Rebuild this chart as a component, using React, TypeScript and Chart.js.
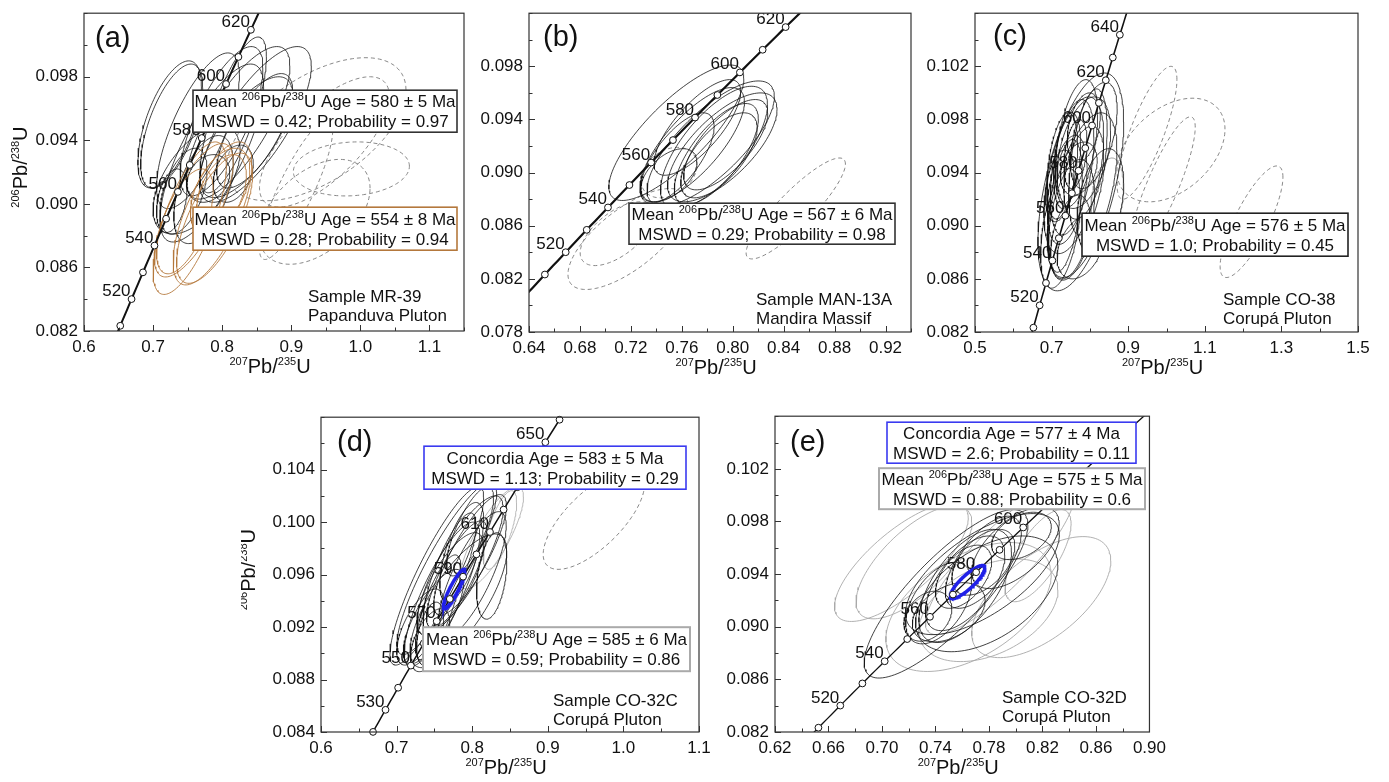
import React, { useEffect, useRef } from "react";
import { Chart, registerables } from "chart.js";
Chart.register(...registerables);

const FONT = '"Liberation Sans", Arial, Helvetica, sans-serif';
type Ell = [number, number, number, number, number]; // cx, cy, halfX, halfY, rho

// U-Pb decay constants (1/yr)
const LAMBDA_238 = 1.55125e-10;
const LAMBDA_235 = 9.8485e-10;

// ---------- Panel (a) ----------
const A_X_TICKS = [0.6, 0.7, 0.8, 0.9, 1.0, 1.1];
const A_Y_TICKS = [0.082, 0.086, 0.09, 0.094, 0.098];
const A_MARKER_AGES = [510, 520, 530, 540, 550, 560, 570, 580, 590, 600, 610, 620];
const A_LABEL_AGES = [520, 540, 560, 580, 600, 620];
const A_BLACK: Ell[] = [
  [0.724, 0.095, 0.046, 0.004, 0.6],
  [0.727, 0.0949, 0.045, 0.0039, 0.62],
  [0.765, 0.0946, 0.06, 0.0049, 0.72],
  [0.799, 0.0952, 0.06, 0.0047, 0.72],
  [0.823, 0.0951, 0.075, 0.0048, 0.75],
  [0.848, 0.095, 0.081, 0.0049, 0.75],
  [0.835, 0.0942, 0.067, 0.0038, 0.7],
  [0.785, 0.0932, 0.075, 0.0056, 0.75],
  [0.763, 0.0915, 0.063, 0.0034, 0.55],
  [0.744, 0.0908, 0.034, 0.0027, 0.5],
  [0.773, 0.0909, 0.043, 0.0034, 0.5],
  [0.78, 0.0916, 0.031, 0.0015, 0.25],
  [0.816, 0.0919, 0.029, 0.0018, 0.35],
  [0.727, 0.0902, 0.022, 0.002, 0.35],
  [0.816, 0.0956, 0.048, 0.0049, 0.75],
  [0.847, 0.0946, 0.055, 0.0036, 0.7],
];
const A_BROWN: Ell[] = [
  [0.753, 0.0891, 0.053, 0.0048, 0.7],
  [0.759, 0.0896, 0.057, 0.0042, 0.72],
  [0.786, 0.0894, 0.057, 0.0045, 0.68],
  [0.789, 0.0891, 0.055, 0.0041, 0.68],
  [0.797, 0.0908, 0.043, 0.0027, 0.5],
  [0.746, 0.0889, 0.041, 0.0033, 0.6],
  [0.799, 0.0907, 0.036, 0.0024, 0.45],
];
const A_DASHED: Ell[] = [
  [0.936, 0.0947, 0.13, 0.0045, 0.55],
  [0.948, 0.0939, 0.094, 0.0041, 0.7],
  [0.907, 0.0909, 0.053, 0.0044, 0.85],
  [0.987, 0.0922, 0.084, 0.0017, 0.1],
  [0.934, 0.0895, 0.08, 0.0033, 0.45],
];

// ---------- Panel (b) ----------
const B_X_TICKS = [0.64, 0.68, 0.72, 0.76, 0.8, 0.84, 0.88, 0.92];
const B_Y_TICKS = [0.078, 0.082, 0.086, 0.09, 0.094, 0.098];
const B_MARKER_AGES = [510, 520, 530, 540, 550, 560, 570, 580, 590, 600, 610, 620];
const B_LABEL_AGES = [520, 540, 560, 580, 600, 620];
const B_BLACK: Ell[] = [
  [0.7557, 0.093, 0.053, 0.0051, 0.8],
  [0.7682, 0.0921, 0.041, 0.0043, 0.75],
  [0.7827, 0.0922, 0.05, 0.0047, 0.75],
  [0.7853, 0.0919, 0.042, 0.0046, 0.7],
  [0.7918, 0.0919, 0.043, 0.0041, 0.7],
  [0.7871, 0.0914, 0.033, 0.0038, 0.7],
  [0.7892, 0.0913, 0.03, 0.0032, 0.65],
  [0.7564, 0.0911, 0.029, 0.0034, 0.7],
  [0.7499, 0.0898, 0.022, 0.002, 0.5],
  [0.7722, 0.0934, 0.034, 0.0036, 0.75],
  [0.7945, 0.0921, 0.033, 0.0034, 0.7],
];
const B_DASHED: Ell[] = [
  [0.7499, 0.09, 0.022, 0.0019, 0.3],
  [0.7176, 0.085, 0.047, 0.0038, 0.7],
  [0.7092, 0.0854, 0.029, 0.0024, 0.6],
  [0.8495, 0.0873, 0.039, 0.0038, 0.88],
];

// ---------- Panel (c) ----------
const C_X_TICKS = [0.5, 0.7, 0.9, 1.1, 1.3, 1.5];
const C_Y_TICKS = [0.082, 0.086, 0.09, 0.094, 0.098, 0.102];
const C_MARKER_AGES = [510, 520, 530, 540, 550, 560, 570, 580, 590, 600, 610, 620, 630, 640];
const C_LABEL_AGES = [520, 540, 560, 580, 600, 620, 640];
const C_BLACK: Ell[] = [
  [0.7763, 0.0933, 0.112, 0.0082, 0.55],
  [0.758, 0.0938, 0.078, 0.0059, 0.5],
  [0.7537, 0.0944, 0.057, 0.0051, 0.45],
  [0.7841, 0.0955, 0.07, 0.0042, 0.4],
  [0.7407, 0.0927, 0.052, 0.0041, 0.4],
  [0.7233, 0.0898, 0.052, 0.0045, 0.45],
  [0.8275, 0.0918, 0.061, 0.004, 0.35],
  [0.7841, 0.094, 0.052, 0.0035, 0.4],
  [0.7407, 0.0949, 0.035, 0.0036, 0.35],
  [0.8102, 0.0968, 0.061, 0.004, 0.5],
  [0.7493, 0.0891, 0.052, 0.0032, 0.4],
  [0.7797, 0.0923, 0.091, 0.0062, 0.55],
  [0.7711, 0.0943, 0.048, 0.002, 0.3],
  [0.7215, 0.093, 0.037, 0.0027, 0.35],
  [0.7624, 0.0954, 0.03, 0.0026, 0.35],
  [0.7754, 0.0884, 0.061, 0.0024, 0.35],
  [0.7841, 0.0974, 0.043, 0.0026, 0.35],
  [0.735, 0.0915, 0.045, 0.005, 0.45],
  [0.765, 0.0962, 0.055, 0.0048, 0.45],
  [0.752, 0.0905, 0.06, 0.0045, 0.4],
  [0.795, 0.0948, 0.05, 0.0055, 0.45],
  [0.728, 0.0945, 0.04, 0.004, 0.4],
];
const C_GRAY: Ell[] = [[0.845, 0.092, 0.0425, 0.0031, 0.3]];
const C_DASHED: Ell[] = [
  [0.9492, 0.097, 0.078, 0.005, 0.8],
  [1.0117, 0.0957, 0.141, 0.0039, 0.4],
  [0.99, 0.093, 0.085, 0.0052, 0.85],
  [1.222, 0.0903, 0.082, 0.0042, 0.8],
];

// ---------- Panel (d) ----------
const D_X_TICKS = [0.6, 0.7, 0.8, 0.9, 1.0, 1.1];
const D_Y_TICKS = [0.084, 0.088, 0.092, 0.096, 0.1, 0.104];
const D_MARKER_AGES = [520, 530, 540, 550, 560, 570, 580, 590, 600, 610, 620, 630, 640, 650, 660];
const D_LABEL_AGES = [530, 550, 570, 590, 610, 630, 650];
const D_BLACK: Ell[] = [
  [0.7532, 0.0959, 0.062, 0.0068, 0.88],
  [0.7664, 0.0965, 0.066, 0.0066, 0.88],
  [0.7818, 0.094, 0.064, 0.0051, 0.75],
  [0.784, 0.0967, 0.057, 0.0053, 0.82],
  [0.7972, 0.0975, 0.048, 0.0046, 0.82],
  [0.7708, 0.0953, 0.044, 0.0039, 0.75],
  [0.7488, 0.0928, 0.04, 0.0036, 0.75],
  [0.7796, 0.096, 0.04, 0.0041, 0.8],
  [0.8258, 0.0959, 0.02, 0.0033, 0.35],
  [0.7444, 0.0915, 0.018, 0.0024, 0.45],
  [0.7444, 0.091, 0.026, 0.0024, 0.55],
  [0.7862, 0.0977, 0.029, 0.0038, 0.65],
  [0.7972, 0.0993, 0.031, 0.0034, 0.75],
  [0.7312, 0.092, 0.031, 0.0029, 0.65],
  [0.76, 0.0945, 0.05, 0.0055, 0.82],
  [0.77, 0.0962, 0.035, 0.0045, 0.8],
  [0.755, 0.0935, 0.03, 0.004, 0.75],
  [0.8, 0.096, 0.045, 0.0048, 0.78],
];
const D_GRAY: Ell[] = [
  [0.8258, 0.0988, 0.042, 0.0039, 0.8],
  [0.8368, 0.0994, 0.022, 0.003, 0.7],
];
const D_DASHED: Ell[] = [[0.9609, 0.1002, 0.067, 0.0038, 0.7]];
const D_BLUE: Ell[] = [[0.7761, 0.0949, 0.0143, 0.0015, 0.9]];

// ---------- Panel (e) ----------
const E_X_TICKS = [0.62, 0.66, 0.7, 0.74, 0.78, 0.82, 0.86, 0.9];
const E_Y_TICKS = [0.082, 0.086, 0.09, 0.094, 0.098, 0.102];
const E_MARKER_AGES = [510, 520, 530, 540, 550, 560, 570, 580, 590, 600, 610, 620, 630, 640];
const E_LABEL_AGES = [520, 540, 560, 580, 600];
const E_BLACK: Ell[] = [
  [0.7479, 0.0925, 0.0612, 0.0064, 0.82],
  [0.7751, 0.094, 0.0575, 0.0046, 0.65],
  [0.7783, 0.0925, 0.0532, 0.0044, 0.5],
  [0.7622, 0.0931, 0.0346, 0.0043, 0.6],
  [0.7622, 0.0933, 0.0297, 0.0036, 0.6],
  [0.7424, 0.0918, 0.0247, 0.0031, 0.5],
  [0.7758, 0.0949, 0.0284, 0.0035, 0.65],
  [0.7998, 0.096, 0.0327, 0.0031, 0.6],
  [0.7499, 0.0911, 0.0272, 0.00225, 0.4],
  [0.761, 0.0938, 0.021, 0.0024, 0.5],
  [0.7758, 0.0949, 0.0235, 0.0025, 0.5],
  [0.7343, 0.0908, 0.0179, 0.0019, 0.3],
  [0.8043, 0.0969, 0.0223, 0.0018, 0.4],
];
const E_GRAY: Ell[] = [
  [0.7145, 0.0949, 0.05, 0.0045, 0.75],
  [0.7239, 0.0949, 0.0433, 0.0043, 0.7],
  [0.7647, 0.0915, 0.0618, 0.0049, 0.5],
  [0.8191, 0.09225, 0.052, 0.0046, 0.6],
  [0.7796, 0.09125, 0.052, 0.0039, 0.4],
  [0.8167, 0.0954, 0.0247, 0.0035, 0.7],
  [0.7882, 0.0951, 0.0557, 0.0057, 0.85],
];
const E_BLUE: Ell[] = [[0.764, 0.0934, 0.0129, 0.00125, 0.85]];

// ---------- styling ----------
const BLACK = "#111111";
const BROWN = "#b4783c";
const DASH_GRAY = "#7a7a7a";
const LIGHT_GRAY = "#a8a8a8";
const BLUE = "#2020e8";

interface Group { ells: Ell[]; color: string; width: number; dash?: number[]; order: number }
interface Box { x: number; y: number; w: number; h: number; border: string; bw: number; lines: string[] }
interface Panel {
  rect: [number, number, number, number];
  xRange: [number, number]; yRange: [number, number];
  xTicks: number[]; yTicks: number[]; xMinor: number; yMinor: number; xDec: number;
  groups: Group[]; markerAges: number[]; labelAges: number[]; concW: number;
  boxes: Box[]; sample: [string, string]; sampleAt: [number, number];
  tag: string; tagAt: [number, number]; yTitleDx: number | null;
}

const MEAN = (age: string) => `Mean ^{206}Pb/^{238}U Age = ${age}`;

const PANELS: Panel[] = [
  {
    rect: [84, 9, 464, 331], xRange: [0.6, 1.15], yRange: [0.082, 0.102],
    xTicks: A_X_TICKS, yTicks: A_Y_TICKS, xMinor: 0.05, yMinor: 0.002, xDec: 1,
    groups: [
      { ells: A_DASHED, color: DASH_GRAY, width: 0.9, dash: [4, 3], order: 4 },
      { ells: A_BLACK, color: BLACK, width: 0.8, order: 3 },
      { ells: A_BROWN, color: BROWN, width: 0.9, order: 2 },
    ],
    markerAges: A_MARKER_AGES, labelAges: A_LABEL_AGES, concW: 2,
    boxes: [
      { x: 109, y: 77, w: 264, h: 42, border: "#333333", bw: 1.6, lines: [MEAN("580 ± 5 Ma"), "MSWD = 0.42; Probability = 0.97"] },
      { x: 109, y: 194, w: 264, h: 43, border: BROWN, bw: 1.6, lines: [MEAN("554 ± 8 Ma"), "MSWD = 0.28; Probability = 0.94"] },
    ],
    sample: ["Sample MR-39", "Papanduva Pluton"], sampleAt: [224, 283],
    tag: "(a)", tagAt: [11, 24], yTitleDx: -64,
  },
  {
    rect: [529, 9, 911, 332], xRange: [0.64, 0.94], yRange: [0.078, 0.102],
    xTicks: B_X_TICKS, yTicks: B_Y_TICKS, xMinor: 0.02, yMinor: 0.002, xDec: 2,
    groups: [
      { ells: B_DASHED, color: DASH_GRAY, width: 0.9, dash: [4, 3], order: 4 },
      { ells: B_BLACK, color: BLACK, width: 0.8, order: 3 },
    ],
    markerAges: B_MARKER_AGES, labelAges: B_LABEL_AGES, concW: 2.2,
    boxes: [
      { x: 100, y: 190, w: 266, h: 41, border: "#333333", bw: 1.6, lines: [MEAN("567 ± 6 Ma"), "MSWD = 0.29; Probability = 0.98"] },
    ],
    sample: ["Sample MAN-13A", "Mandira Massif"], sampleAt: [227, 286],
    tag: "(b)", tagAt: [14, 23], yTitleDx: null,
  },
  {
    rect: [975, 9, 1358, 332], xRange: [0.5, 1.5], yRange: [0.082, 0.106],
    xTicks: C_X_TICKS, yTicks: C_Y_TICKS, xMinor: 0.1, yMinor: 0.002, xDec: 1,
    groups: [
      { ells: C_DASHED, color: DASH_GRAY, width: 0.9, dash: [4, 3], order: 5 },
      { ells: C_GRAY, color: "#8a8a8a", width: 0.8, order: 4 },
      { ells: C_BLACK, color: BLACK, width: 0.8, order: 3 },
    ],
    markerAges: C_MARKER_AGES, labelAges: C_LABEL_AGES, concW: 1.6,
    boxes: [
      { x: 107, y: 200, w: 266, h: 43, border: "#222222", bw: 1.6, lines: [MEAN("576 ± 5 Ma"), "MSWD = 1.0; Probability = 0.45"] },
    ],
    sample: ["Sample CO-38", "Corupá Pluton"], sampleAt: [248, 286],
    tag: "(c)", tagAt: [18, 22], yTitleDx: null,
  },
  {
    rect: [321, 413, 699, 732], xRange: [0.6, 1.1], yRange: [0.084, 0.108],
    xTicks: D_X_TICKS, yTicks: D_Y_TICKS, xMinor: 0.05, yMinor: 0.002, xDec: 1,
    groups: [
      { ells: D_DASHED, color: DASH_GRAY, width: 0.9, dash: [4, 3], order: 5 },
      { ells: D_GRAY, color: LIGHT_GRAY, width: 0.8, order: 4 },
      { ells: D_BLACK, color: BLACK, width: 0.8, order: 3 },
      { ells: D_BLUE, color: BLUE, width: 3.5, order: 0.5 },
    ],
    markerAges: D_MARKER_AGES, labelAges: D_LABEL_AGES, concW: 1.5,
    boxes: [
      { x: 103, y: 29, w: 262, h: 43, border: "#3a3af0", bw: 1.6, lines: ["Concordia Age = 583 ± 5 Ma", "MSWD = 1.13; Probability = 0.29"] },
      { x: 102, y: 210, w: 267, h: 44, border: "#aaaaaa", bw: 2, lines: [MEAN("585 ± 6 Ma"), "MSWD = 0.59; Probability = 0.86"] },
    ],
    sample: ["Sample CO-32C", "Corupá Pluton"], sampleAt: [232, 283],
    tag: "(d)", tagAt: [16, 24], yTitleDx: -73,
  },
  {
    rect: [775, 412, 1152, 732], xRange: [0.62, 0.9], yRange: [0.082, 0.106],
    xTicks: E_X_TICKS, yTicks: E_Y_TICKS, xMinor: 0.02, yMinor: 0.002, xDec: 2,
    groups: [
      { ells: E_GRAY, color: LIGHT_GRAY, width: 0.9, order: 4 },
      { ells: E_BLACK, color: BLACK, width: 0.8, order: 3 },
      { ells: E_BLUE, color: BLUE, width: 3.5, order: 0.5 },
    ],
    markerAges: E_MARKER_AGES, labelAges: E_LABEL_AGES, concW: 1.3,
    boxes: [
      { x: 112, y: 6, w: 249, h: 41, border: "#3a3af0", bw: 1.6, lines: ["Concordia Age = 577 ± 4 Ma", "MSWD = 2.6; Probability = 0.11"] },
      { x: 104, y: 52, w: 266, h: 41, border: "#aaaaaa", bw: 2, lines: [MEAN("575 ± 5 Ma"), "MSWD = 0.88; Probability = 0.6"] },
    ],
    sample: ["Sample CO-32D", "Corupá Pluton"], sampleAt: [227, 281],
    tag: "(e)", tagAt: [15, 25], yTitleDx: null,
  },
];

// ---------- helpers ----------
const concX = (ma: number) => Math.exp(LAMBDA_235 * ma * 1e6) - 1;
const concY = (ma: number) => Math.exp(LAMBDA_238 * ma * 1e6) - 1;

function ellipsePoints(e: Ell) {
  const [cx, cy, sx, sy, r] = e;
  const k = Math.sqrt(1 - r * r);
  const pts: { x: number; y: number }[] = [];
  const N = 120;
  for (let i = 0; i <= N; i++) {
    const t = (2 * Math.PI * i) / N;
    pts.push({ x: cx + sx * Math.cos(t), y: cy + sy * (r * Math.cos(t) + k * Math.sin(t)) });
  }
  return pts;
}

function parseRich(s: string) {
  const parts: { t: string; sup: boolean }[] = [];
  const re = /\^\{([^}]*)\}/g;
  let last = 0;
  let m: RegExpExecArray | null;
  while ((m = re.exec(s))) {
    if (m.index > last) parts.push({ t: s.slice(last, m.index), sup: false });
    parts.push({ t: m[1], sup: true });
    last = m.index + m[0].length;
  }
  if (last < s.length) parts.push({ t: s.slice(last), sup: false });
  return parts;
}

function drawRich(ctx: CanvasRenderingContext2D, s: string, x: number, yc: number, size: number, align: "left" | "center" | "right", supSize?: number) {
  const parts = parseRich(s);
  const ss = supSize ?? Math.round(size * 0.63);
  let total = 0;
  const widths = parts.map((p) => {
    ctx.font = `${p.sup ? ss : size}px ${FONT}`;
    const w = ctx.measureText(p.t).width;
    total += w;
    return w;
  });
  let cx = align === "center" ? x - total / 2 : align === "right" ? x - total : x;
  const base = yc + size * 0.36;
  ctx.textAlign = "left";
  ctx.textBaseline = "alphabetic";
  parts.forEach((p, i) => {
    ctx.font = `${p.sup ? ss : size}px ${FONT}`;
    ctx.fillText(p.t, cx, p.sup ? base - size * 0.42 : base);
    cx += widths[i];
  });
}

const PAD_L = 80, PAD_T = 12, PAD_R = 20, PAD_B = 55;

function makePlugin(p: Panel) {
  return {
    id: "deco",
    beforeDatasetsDraw(chart: any) {
      const { ctx, chartArea: a, scales } = chart;
      ctx.save();
      ctx.beginPath();
      ctx.rect(a.left, a.top, a.right - a.left, a.bottom - a.top);
      ctx.clip();
      ctx.fillStyle = "#111";
      ctx.font = `17px ${FONT}`;
      ctx.textAlign = "right";
      ctx.textBaseline = "alphabetic";
      p.labelAges.forEach((age) => {
        const px = scales.x.getPixelForValue(concX(age));
        const py = scales.y.getPixelForValue(concY(age));
        ctx.fillText(String(age), px - 1, py - 3);
      });
      ctx.restore();
    },
    afterDatasetsDraw(chart: any) {
      const { ctx, chartArea: a, scales } = chart;
      ctx.save();
      ctx.strokeStyle = "#333";
      ctx.lineWidth = 1.2;
      ctx.strokeRect(a.left, a.top, a.right - a.left, a.bottom - a.top);
      ctx.lineWidth = 1;
      ctx.strokeStyle = "#333";
      const near = (v: number, arr: number[], step: number) => arr.some((m) => Math.abs(m - v) < step * 0.05);
      const [x0, x1] = p.xRange;
      for (let n = Math.ceil(x0 / p.xMinor - 1e-6); n <= Math.floor(x1 / p.xMinor + 1e-6); n++) {
        const v = n * p.xMinor;
        const len = near(v, p.xTicks, p.xMinor) ? 6 : 3.5;
        const px = Math.round(scales.x.getPixelForValue(v)) + 0.5;
        ctx.beginPath();
        ctx.moveTo(px, a.bottom);
        ctx.lineTo(px, a.bottom - len);
        ctx.stroke();
      }
      const [y0, y1] = p.yRange;
      for (let n = Math.ceil(y0 / p.yMinor - 1e-6); n <= Math.floor(y1 / p.yMinor + 1e-6); n++) {
        const v = n * p.yMinor;
        const len = near(v, p.yTicks, p.yMinor) ? 6 : 3.5;
        const py = Math.round(scales.y.getPixelForValue(v)) + 0.5;
        ctx.beginPath();
        ctx.moveTo(a.left, py);
        ctx.lineTo(a.left + len, py);
        ctx.stroke();
      }
      p.boxes.forEach((b) => {
        const bx = a.left + b.x, by = a.top + b.y;
        ctx.fillStyle = "#ffffff";
        ctx.fillRect(bx, by, b.w, b.h);
        ctx.strokeStyle = b.border;
        ctx.lineWidth = b.bw;
        ctx.strokeRect(bx, by, b.w, b.h);
        ctx.fillStyle = "#111";
        const cx = bx + b.w / 2, cy = by + b.h / 2;
        drawRich(ctx, b.lines[0], cx, cy - 10, 17, "center", 11);
        drawRich(ctx, b.lines[1], cx, cy + 10, 17, "center", 11);
      });
      ctx.fillStyle = "#111";
      drawRich(ctx, p.sample[0], a.left + p.sampleAt[0], a.top + p.sampleAt[1], 17, "left");
      drawRich(ctx, p.sample[1], a.left + p.sampleAt[0], a.top + p.sampleAt[1] + 19, 17, "left");
      drawRich(ctx, p.tag, a.left + p.tagAt[0], a.top + p.tagAt[1] - 1, 29, "left");
      const title207 = "^{207}Pb/^{235}U";
      const title206 = "^{206}Pb/^{238}U";
      drawRich(ctx, title207, (a.left + a.right) / 2 - 4, a.bottom + 35, 20, "center", 11);
      if (p.yTitleDx !== null) {
        ctx.save();
        ctx.translate(a.left + p.yTitleDx, (a.top + a.bottom) / 2 - 5);
        ctx.rotate(-Math.PI / 2);
        drawRich(ctx, title206, 0, 0, 20, "center", 11);
        ctx.restore();
      }
      ctx.restore();
    },
  };
}

function buildDatasets(p: Panel) {
  const ds: any[] = [];
  p.groups.forEach((g) => {
    g.ells.forEach((e) => {
      ds.push({
        data: ellipsePoints(e), showLine: true, pointRadius: 0, borderColor: g.color,
        borderWidth: g.width, borderDash: g.dash ?? [], fill: false, tension: 0, order: g.order,
      });
    });
  });
  const curve: { x: number; y: number }[] = [];
  for (let age = 480; age <= 700; age += 2) curve.push({ x: concX(age), y: concY(age) });
  ds.push({ data: curve, showLine: true, pointRadius: 0, borderColor: BLACK, borderWidth: p.concW, fill: false, order: 1 });
  ds.push({
    data: p.markerAges.map((age) => ({ x: concX(age), y: concY(age) })), showLine: false,
    pointRadius: 3.4, pointBackgroundColor: "#ffffff", pointBorderColor: BLACK, pointBorderWidth: 1,
    order: 0, clip: false,
  });
  return ds;
}

function PanelChart({ p }: { p: Panel }) {
  const ref = useRef<HTMLCanvasElement | null>(null);
  const [l, t, r, b] = p.rect;
  const W = r - l + PAD_L + PAD_R;
  const H = b - t + PAD_T + PAD_B;
  useEffect(() => {
    if (!ref.current) return;
    const tickFont = { family: FONT, size: 17 };
    const chart = new Chart(ref.current, {
      type: "scatter",
      data: { datasets: buildDatasets(p) },
      options: {
        animation: false, responsive: false, maintainAspectRatio: false, events: [],
        layout: { padding: { left: 0, top: PAD_T, right: PAD_R, bottom: 0 } },
        plugins: { legend: { display: false }, tooltip: { enabled: false } },
        scales: {
          x: {
            type: "linear", min: p.xRange[0], max: p.xRange[1],
            grid: { display: false, drawTicks: false }, border: { display: false },
            ticks: { padding: 6, font: tickFont, color: "#111", autoSkip: false, maxRotation: 0, includeBounds: false,
              callback: (v: any) => Number(v).toFixed(p.xDec) },
            afterBuildTicks: (s: any) => { s.ticks = p.xTicks.map((v) => ({ value: v })); },
            afterFit: (s: any) => { s.height = PAD_B; },
          },
          y: {
            type: "linear", min: p.yRange[0], max: p.yRange[1],
            grid: { display: false, drawTicks: false }, border: { display: false },
            ticks: { padding: 6, font: tickFont, color: "#111", autoSkip: false, includeBounds: false,
              callback: (v: any) => Number(v).toFixed(3) },
            afterBuildTicks: (s: any) => { s.ticks = p.yTicks.map((v) => ({ value: v })); },
            afterFit: (s: any) => { s.width = PAD_L; },
          },
        },
      } as any,
      plugins: [makePlugin(p)],
    });
    return () => chart.destroy();
  }, [p]);
  return (
    <canvas
      ref={ref}
      width={W}
      height={H}
      style={{ position: "absolute", left: l - PAD_L, top: t - PAD_T, width: W, height: H }}
    />
  );
}

export default function App() {
  return (
    <div style={{ position: "absolute", left: 0, top: 0, width: 1389, height: 782, background: "#fff", overflow: "hidden" }}>
      {PANELS.map((p, i) => (
        <PanelChart key={i} p={p} />
      ))}
    </div>
  );
}
